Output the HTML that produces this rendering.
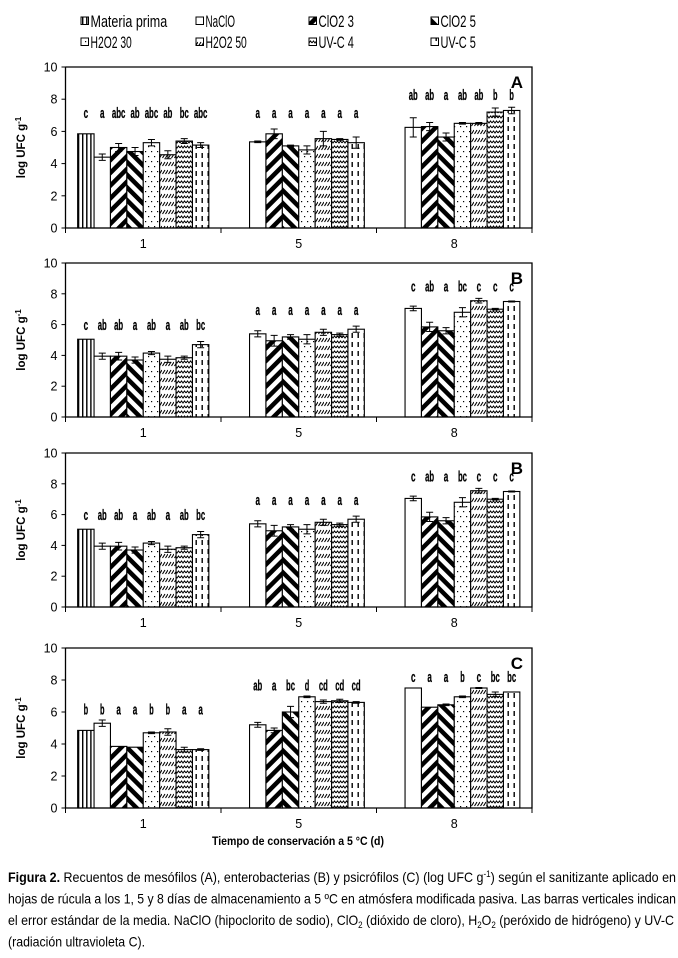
<!DOCTYPE html>
<html><head><meta charset="utf-8"><style>
html,body{margin:0;padding:0;background:#fff;width:678px;height:958px;overflow:hidden}
svg{display:block}
text{font-family:"Liberation Sans",sans-serif}
</style></head><body>
<svg id="s" width="678" height="958" viewBox="0 0 678 958" xmlns="http://www.w3.org/2000/svg">
<defs>
<pattern id="pv" width="4.1" height="10" patternUnits="userSpaceOnUse"><rect width="4.1" height="10" fill="#fff"/><rect x="0" width="1.4" height="10" fill="#000"/></pattern>
<pattern id="pl" width="9" height="9" patternUnits="userSpaceOnUse" patternTransform="rotate(45)"><rect width="9" height="9" fill="#fff"/><rect x="0" width="4.5" height="9" fill="#000"/></pattern>
<pattern id="pr" width="9" height="9" patternUnits="userSpaceOnUse" patternTransform="rotate(-45)"><rect width="9" height="9" fill="#fff"/><rect x="0" width="4.5" height="9" fill="#000"/></pattern>
<pattern id="pd" width="6" height="10" patternUnits="userSpaceOnUse"><rect width="6" height="10" fill="#fff"/><rect x="1" y="1" width="1.2" height="1.2" fill="#000"/><rect x="4" y="6" width="1.2" height="1.2" fill="#000"/></pattern>
<pattern id="ph" width="6" height="8" patternUnits="userSpaceOnUse"><rect width="6" height="8" fill="#fff"/><path d="M0.5 6 L3 2 M3.5 6 L6 2" stroke="#000" stroke-width="1.1"/></pattern>
<pattern id="pw" width="6" height="5" patternUnits="userSpaceOnUse"><rect width="6" height="5" fill="#fff"/><path d="M0 3 L1.5 1 L3 3 L4.5 1 L6 3" stroke="#000" stroke-width="1" fill="none"/></pattern>
<pattern id="pk" width="6" height="9" patternUnits="userSpaceOnUse"><rect width="6" height="9" fill="#fff"/><rect x="3.5" y="0" width="1.4" height="5" fill="#000"/></pattern>
</defs>
</svg>
<script>
var s=document.getElementById('s');var NS='http://www.w3.org/2000/svg';
function el(t,a,txt){var e=document.createElementNS(NS,t);for(var k in a)e.setAttribute(k,a[k]);if(txt!=null)e.textContent=txt;s.appendChild(e);return e;}
var fills=['url(#pv)','#fff','url(#pl)','url(#pr)','url(#pd)','url(#ph)','url(#pw)','url(#pk)'];
var names=['Materia prima','NaClO','ClO2 3','ClO2 5','H2O2 30','H2O2 50','UV-C 4','UV-C 5'];
var lx=[81,196,309,431];
for(var i=0;i<8;i++){var r=Math.floor(i/4),c=i%4;var y=r?42:21;
el('rect',{x:lx[c],y:y-4,width:7.5,height:7.5,fill:fills[i],stroke:'#000','stroke-width':1});
el('text',{x:lx[c]+9.5,y:y+6,'font-size':16.5,textLength:names[i].length*5.9,lengthAdjust:'spacingAndGlyphs'},names[i]);}
var X0=65.5,X1=532,GW=(X1-X0)/3,BW=16.4;
var panels=[
{t:67,b:228,lab:'A',
v:[[5.85,4.4,5.0,4.75,5.3,4.55,5.4,5.15],[null,5.35,5.85,5.1,4.85,5.55,5.5,5.3],[null,6.25,6.3,5.65,6.5,6.5,7.2,7.3]],
e:[[0,.2,.25,.25,.2,.25,.15,.15],[0,.05,.3,.05,.25,.45,.05,.35],[0,.6,.25,.25,.05,.05,.25,.2]],
l:[['c','a','abc','ab','abc','ab','bc','abc'],['','a','a','a','a','a','a','a'],['','ab','ab','a','ab','ab','b','b']],ly:[6.9,6.9,8.0]},
{t:263,b:417,lab:'B',
v:[[5.05,3.95,3.95,3.7,4.15,3.75,3.85,4.7],[null,5.4,4.95,5.2,5.05,5.5,5.35,5.7],[null,7.05,5.85,5.6,6.8,7.55,7.0,7.5]],
e:[[0,.2,.25,.2,.1,.2,.1,.2],[0,.2,.35,.15,.3,.2,.1,.2],[0,.15,.3,.2,.3,.15,.05,.03]],
l:[['c','ab','ab','a','ab','a','ab','bc'],['','a','a','a','a','a','a','a'],['','c','ab','a','bc','c','c','c']],ly:[5.7,6.7,8.2]},
{t:453,b:607,lab:'B',
v:[[5.05,3.95,3.95,3.7,4.15,3.75,3.85,4.7],[null,5.4,4.95,5.2,5.05,5.5,5.35,5.7],[null,7.05,5.85,5.6,6.8,7.55,7.0,7.5]],
e:[[0,.2,.25,.2,.1,.2,.1,.2],[0,.2,.35,.15,.3,.2,.1,.2],[0,.15,.3,.2,.3,.15,.05,.03]],
l:[['c','ab','ab','a','ab','a','ab','bc'],['','a','a','a','a','a','a','a'],['','c','ab','a','bc','c','c','c']],ly:[5.7,6.7,8.2]},
{t:648,b:808,lab:'C',
v:[[4.85,5.3,3.85,3.8,4.7,4.75,3.65,3.65],[null,5.2,4.85,6.0,6.95,6.65,6.7,6.6],[null,7.5,6.3,6.45,6.95,7.5,7.1,7.25]],
e:[[0,.2,0,0,.05,.2,.15,.05],[0,.15,.15,.35,.05,.1,.1,.05],[0,0,0,.05,.05,.03,.15,0]],
l:[['b','b','a','a','b','b','a','a'],['','ab','a','bc','d','cd','cd','cd'],['','c','a','a','b','c','bc','bc']],ly:[5.9,7.4,7.95]}
];
panels.forEach(function(p){
var k=(p.b-p.t)/10;function Y(v){return p.b-v*k;}
for(var g=0;g<3;g++){var gx=X0+g*GW+(GW-8*BW)/2;
for(var j=0;j<8;j++){var v=p.v[g][j];if(v==null)continue;var x=gx+j*BW;
el('rect',{x:x,y:Y(v),width:BW,height:v*k,fill:fills[j],stroke:'#000','stroke-width':1.1});
var e=p.e[g][j];if(e>0){var cx=x+BW/2;
el('path',{d:'M'+cx+' '+Y(v+e)+'V'+Y(v-e)+'M'+(cx-3.5)+' '+Y(v+e)+'h7M'+(cx-3.5)+' '+Y(v-e)+'h7',stroke:'#000','stroke-width':1,fill:'none'});}}
for(var j=0;j<8;j++){var L=p.l[g][j];if(!L)continue;var w=L.length*4.5;
el('text',{x:gx+j*BW+BW/2-w/2,y:Y(p.ly[g])+1,'font-size':15,'font-weight':'bold',stroke:'#000','stroke-width':0.3,textLength:w,lengthAdjust:'spacingAndGlyphs'},L);}
el('text',{x:X0+g*GW+GW/2,y:p.b+20,'font-size':12.5,'text-anchor':'middle'},[1,5,8][g]);
}
el('path',{d:'M'+X0+' '+p.t+'V'+p.b+'H'+X1+'V'+p.t+'H'+X0,stroke:'#000','stroke-width':1.3,fill:'none'});
for(var t=0;t<=10;t+=2){el('path',{d:'M'+(X0-4)+' '+Y(t)+'H'+X0,stroke:'#000'});
el('text',{x:X0-8,y:Y(t)+4.5,'font-size':12.5,'text-anchor':'end'},t);}
for(var g=0;g<=3;g++)el('path',{d:'M'+(X0+g*GW)+' '+p.b+'v5',stroke:'#000'});
el('text',{x:523,y:p.t+21,'font-size':17,'font-weight':'bold','text-anchor':'end'},p.lab);
var my=(p.t+p.b)/2;var tt=el('text',{x:0,y:0,'font-size':11.5,'font-weight':'bold','text-anchor':'middle',transform:'translate(25,'+my+') rotate(-90)'},'log UFC g');
var ts=document.createElementNS(NS,'tspan');ts.setAttribute('dy','-4');ts.setAttribute('font-size','8');ts.textContent='-1';tt.appendChild(ts);
});
el('text',{x:298,y:845,'font-size':12,'font-weight':'bold','text-anchor':'middle',textLength:172,lengthAdjust:'spacingAndGlyphs'},'Tiempo de conservación a 5 °C (d)');
function sp(parent,txt,a){var t=document.createElementNS(NS,'tspan');for(var k in a)t.setAttribute(k,a[k]);t.textContent=txt;parent.appendChild(t);return t;}
var c1=el('text',{x:8,y:882,'font-size':14,textLength:668,lengthAdjust:'spacingAndGlyphs'});
sp(c1,'Figura 2.',{'font-weight':'bold'});sp(c1,' Recuentos de mesófilos (A), enterobacterias (B) y psicrófilos (C) (log UFC g');sp(c1,'-1',{'font-size':9,dy:-5});sp(c1,') según el sanitizante aplicado en',{dy:5});
el('text',{x:8,y:903.5,'font-size':14,textLength:668,lengthAdjust:'spacingAndGlyphs'},'hojas de rúcula a los 1, 5 y 8 días de almacenamiento a 5 ºC en atmósfera modificada pasiva. Las barras verticales indican');
var c3=el('text',{x:8,y:925,'font-size':14,textLength:666,lengthAdjust:'spacingAndGlyphs'});
sp(c3,'el error estándar de la media. NaClO (hipoclorito de sodio), ClO');sp(c3,'2',{'font-size':9,dy:3});sp(c3,' (dióxido de cloro), H',{dy:-3});sp(c3,'2',{'font-size':9,dy:3});sp(c3,'O',{dy:-3});sp(c3,'2',{'font-size':9,dy:3});sp(c3,' (peróxido de hidrógeno) y UV-C',{dy:-3});
el('text',{x:8,y:946.5,'font-size':14,textLength:137,lengthAdjust:'spacingAndGlyphs'},'(radiación ultravioleta C).');
</script>
</body></html>
